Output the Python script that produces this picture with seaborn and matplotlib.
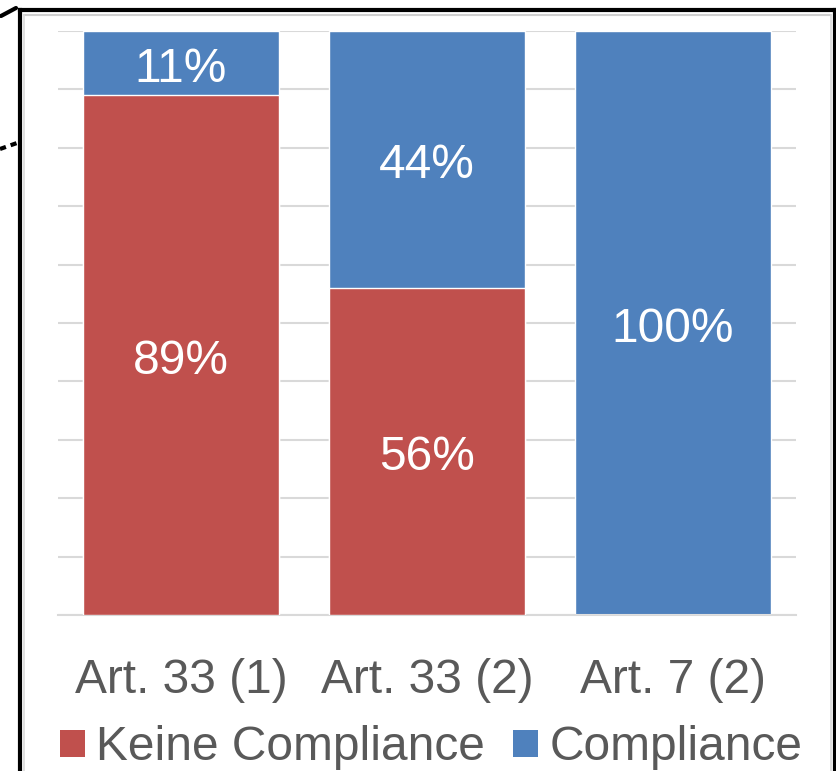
import matplotlib
matplotlib.use("Agg")
import matplotlib.pyplot as plt
from matplotlib.lines import Line2D
from matplotlib.patches import Patch
import seaborn as sns
import pandas as pd

categories = ["Art. 33 (1)", "Art. 33 (2)", "Art. 7 (2)"]
keine_compliance = [89, 56, 0]
compliance = [11, 44, 100]
series_names = ["Keine Compliance", "Compliance"]

RED = "#C0504D"
BLUE = "#4F81BD"
GREY_TEXT = "#595959"
GRID = "#D9D9D9"

sns.set_theme(style="white")
plt.rcParams["font.family"] = ["Liberation Sans", "DejaVu Sans"]

W, H = 837, 771
fig = plt.figure(figsize=(W / 100, H / 100), dpi=100)
ax = fig.add_axes([58 / W, 1 - 615 / H, (796 - 58) / W, (615 - 31) / H])

df = pd.DataFrame({
    "Artikel": categories,
    "keine": keine_compliance,
    "comp": compliance,
})
df["total"] = df["keine"] + df["comp"]

# stacked bars: total (blue) underneath, non-compliance (red) on top of it
sns.barplot(data=df, x="Artikel", y="total", color=BLUE, saturation=1,
            width=0.8, ax=ax, zorder=2)
sns.barplot(data=df, x="Artikel", y="keine", color=RED, saturation=1,
            width=0.8, ax=ax, zorder=3)

label_size = 34.5
def seg_label(x, y, value):
    ax.annotate(f"{value}%", (x, y), xytext=(0, -4.5), textcoords="offset points",
                ha="center", va="center", color="white", fontsize=label_size,
                zorder=5)

for i, (k, c) in enumerate(zip(keine_compliance, compliance)):
    if k > 0:
        seg_label(i, k / 2, k)
    if c > 0:
        seg_label(i, k + c / 2, c)

ax.set_ylim(0, 100)
ax.set_xlim(-0.5, 2.5)
ax.set_yticks(range(0, 101, 10))
ax.set_yticklabels([])
ax.yaxis.grid(True, color=GRID, linewidth=1.5)
ax.set_axisbelow(True)
ax.set_xlabel("")
ax.set_ylabel("")
ax.tick_params(axis="x", length=0, pad=31, labelsize=34.5, labelcolor=GREY_TEXT)
ax.tick_params(axis="y", length=0)
for s in ["top", "right", "left"]:
    ax.spines[s].set_visible(False)
ax.spines["bottom"].set_color(GRID)
ax.spines["bottom"].set_linewidth(1.5)

handles = [Patch(facecolor=RED, edgecolor="none"),
           Patch(facecolor=BLUE, edgecolor="none")]
fig.legend(handles, series_names, loc="center",
           bbox_to_anchor=(431 / W, 1 - 748 / H), ncol=2, frameon=False,
           fontsize=34.5, labelcolor=GREY_TEXT, handlelength=0.52,
           handleheight=0.52, handletextpad=0.23, columnspacing=0.6,
           borderpad=0, borderaxespad=0)

# surrounding frame
lw = 3.0
def fline(xs, ys, color="black", **kw):
    fig.add_artist(Line2D([x / W for x in xs], [1 - y / H for y in ys],
                          transform=fig.transFigure, color=color, **kw))

fline([20, 20], [10, H + 5], linewidth=lw, solid_capstyle="projecting")
fline([20, 835], [10, 10], linewidth=lw, solid_capstyle="projecting")
fline([835, 835], [10, H + 5], linewidth=lw, solid_capstyle="projecting")
# soft inner shadow of the frame
fline([24, 831], [15, 15], color="#CFCFCF", linewidth=1.5)
fline([24, 24], [15, H + 5], color="#DADADA", linewidth=1.2)
fline([831, 831], [15, H + 5], color="#DADADA", linewidth=1.2)
# connector stubs at the left edge
fline([1, 16], [16, 8], linewidth=lw)
fline([0, 17], [149, 143], linewidth=lw, linestyle=(0, (1.5, 1.2)))

fig.savefig("out.png", dpi=100)
